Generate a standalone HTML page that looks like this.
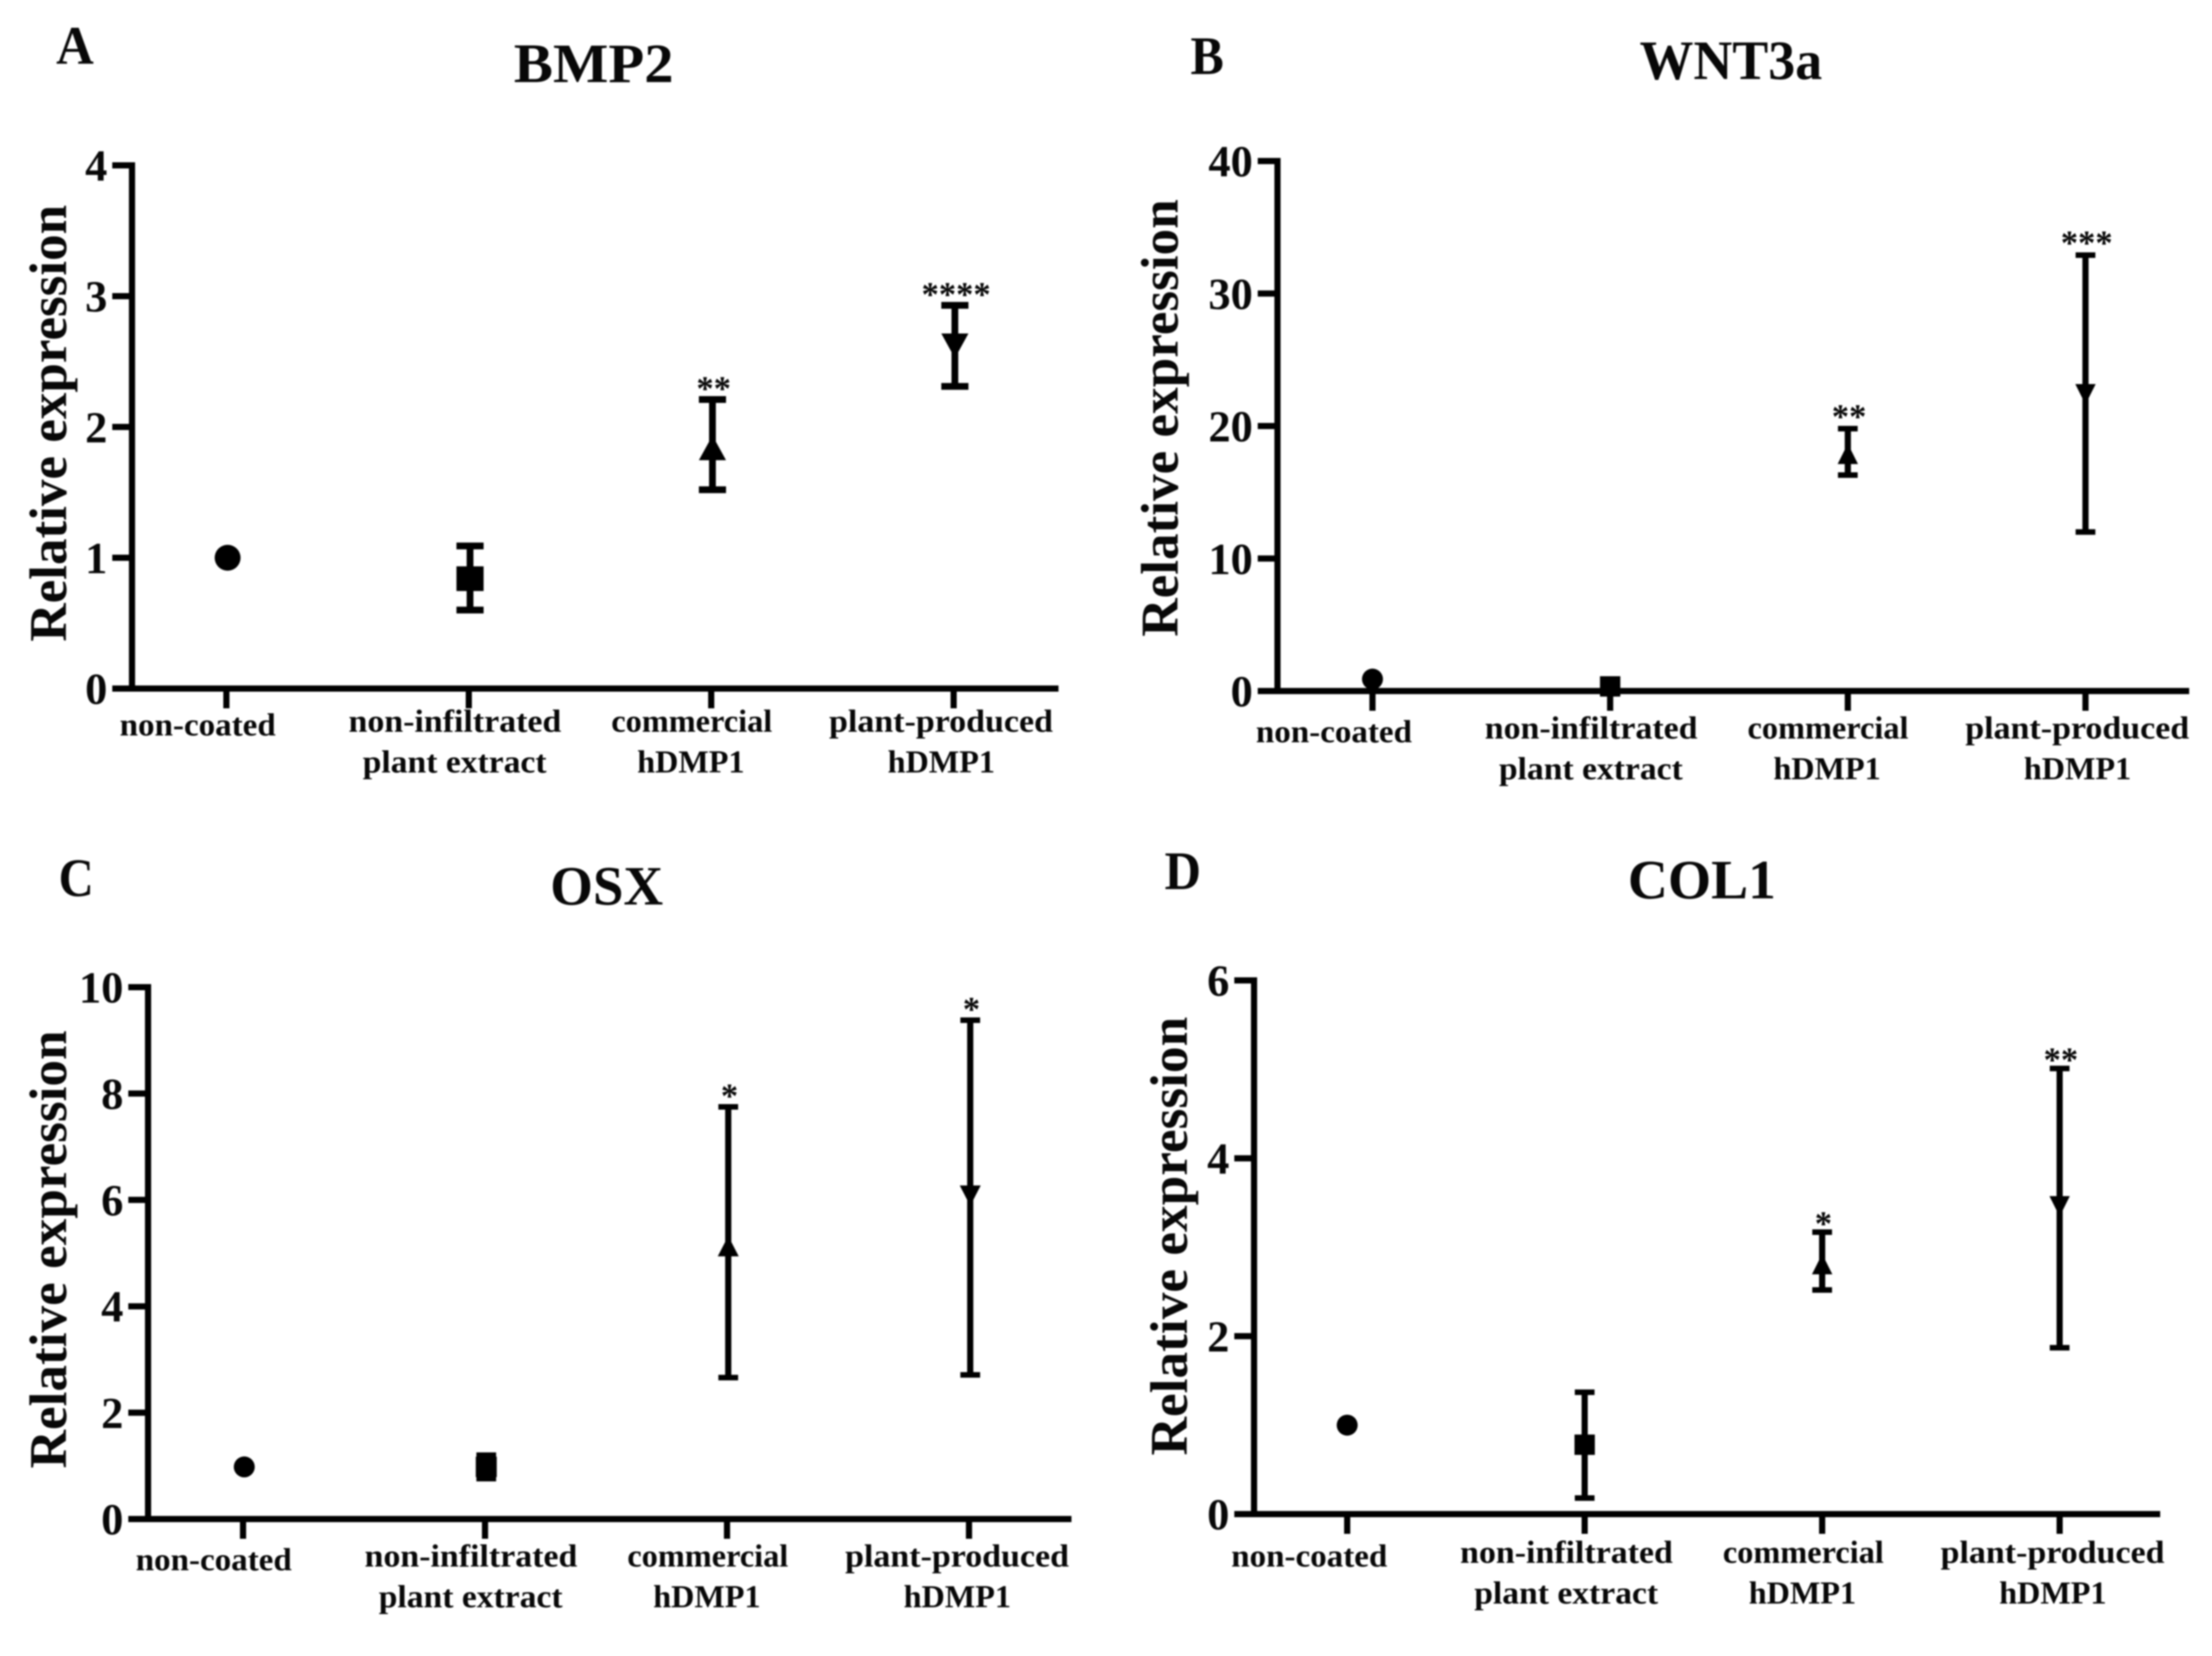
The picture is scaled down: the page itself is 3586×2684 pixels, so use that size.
<!DOCTYPE html>
<html lang="en">
<head>
<meta charset="utf-8">
<title>Relative expression of BMP2, WNT3a, OSX and COL1</title>
<style>
html,body{margin:0;padding:0;background:#fff;}
svg{display:block;filter:blur(1.3px);}
text{font-family:"Liberation Serif",serif;font-weight:bold;fill:#080808;}
.pl{font-size:88px;}
.ti{font-size:90px;}
.yt{font-size:86px;}
.cl{font-size:52px;}
</style>
</head>
<body>
<svg id="fig" xmlns="http://www.w3.org/2000/svg" width="3586" height="2684" viewBox="0 0 3586 2684">
<rect width="3586" height="2684" fill="#fff"/>

<text class="pl" x="91" y="103" textLength="61" lengthAdjust="spacingAndGlyphs">A</text>
<text class="pl" x="1930" y="120" textLength="54" lengthAdjust="spacingAndGlyphs">B</text>
<text class="pl" x="95" y="1452" textLength="57" lengthAdjust="spacingAndGlyphs">C</text>
<text class="pl" x="1888" y="1441" textLength="59" lengthAdjust="spacingAndGlyphs">D</text>

<text class="ti" x="833" y="133" textLength="259" lengthAdjust="spacingAndGlyphs">BMP2</text>
<text class="ti" x="2658" y="128" textLength="296" lengthAdjust="spacingAndGlyphs">WNT3a</text>
<text class="ti" x="892" y="1466" textLength="183" lengthAdjust="spacingAndGlyphs">OSX</text>
<text class="ti" x="2639" y="1456" textLength="240" lengthAdjust="spacingAndGlyphs">COL1</text>

<text class="yt" transform="translate(107,1040) rotate(-90)" textLength="708" lengthAdjust="spacingAndGlyphs">Relative expression</text>
<text class="yt" transform="translate(1909,1032) rotate(-90)" textLength="709" lengthAdjust="spacingAndGlyphs">Relative expression</text>
<text class="yt" transform="translate(107,2380) rotate(-90)" textLength="710" lengthAdjust="spacingAndGlyphs">Relative expression</text>
<text class="yt" transform="translate(1924,2359) rotate(-90)" textLength="711" lengthAdjust="spacingAndGlyphs">Relative expression</text>

<g class="cl" transform="translate(0,0)">
<text x="194" y="1192" textLength="253" lengthAdjust="spacingAndGlyphs">non-coated</text>
<text x="565" y="1186" textLength="345" lengthAdjust="spacingAndGlyphs">non-infiltrated</text>
<text x="588" y="1252" textLength="298" lengthAdjust="spacingAndGlyphs">plant extract</text>
<text x="991" y="1186" textLength="261" lengthAdjust="spacingAndGlyphs">commercial</text>
<text x="1033" y="1252" textLength="174" lengthAdjust="spacingAndGlyphs">hDMP1</text>
<text x="1344" y="1186" textLength="363" lengthAdjust="spacingAndGlyphs">plant-produced</text>
<text x="1439" y="1252" textLength="174" lengthAdjust="spacingAndGlyphs">hDMP1</text>
</g>
<g class="cl" transform="translate(1842,11)">
<text x="194" y="1192" textLength="253" lengthAdjust="spacingAndGlyphs">non-coated</text>
<text x="565" y="1186" textLength="345" lengthAdjust="spacingAndGlyphs">non-infiltrated</text>
<text x="588" y="1252" textLength="298" lengthAdjust="spacingAndGlyphs">plant extract</text>
<text x="991" y="1186" textLength="261" lengthAdjust="spacingAndGlyphs">commercial</text>
<text x="1033" y="1252" textLength="174" lengthAdjust="spacingAndGlyphs">hDMP1</text>
<text x="1344" y="1186" textLength="363" lengthAdjust="spacingAndGlyphs">plant-produced</text>
<text x="1439" y="1252" textLength="174" lengthAdjust="spacingAndGlyphs">hDMP1</text>
</g>
<g class="cl" transform="translate(26,1353)">
<text x="194" y="1192" textLength="253" lengthAdjust="spacingAndGlyphs">non-coated</text>
<text x="565" y="1186" textLength="345" lengthAdjust="spacingAndGlyphs">non-infiltrated</text>
<text x="588" y="1252" textLength="298" lengthAdjust="spacingAndGlyphs">plant extract</text>
<text x="991" y="1186" textLength="261" lengthAdjust="spacingAndGlyphs">commercial</text>
<text x="1033" y="1252" textLength="174" lengthAdjust="spacingAndGlyphs">hDMP1</text>
<text x="1344" y="1186" textLength="363" lengthAdjust="spacingAndGlyphs">plant-produced</text>
<text x="1439" y="1252" textLength="174" lengthAdjust="spacingAndGlyphs">hDMP1</text>
</g>
<g class="cl" transform="translate(1802,1347)">
<text x="194" y="1192" textLength="253" lengthAdjust="spacingAndGlyphs">non-coated</text>
<text x="565" y="1186" textLength="345" lengthAdjust="spacingAndGlyphs">non-infiltrated</text>
<text x="588" y="1252" textLength="298" lengthAdjust="spacingAndGlyphs">plant extract</text>
<text x="991" y="1186" textLength="261" lengthAdjust="spacingAndGlyphs">commercial</text>
<text x="1033" y="1252" textLength="174" lengthAdjust="spacingAndGlyphs">hDMP1</text>
<text x="1344" y="1186" textLength="363" lengthAdjust="spacingAndGlyphs">plant-produced</text>
<text x="1439" y="1252" textLength="174" lengthAdjust="spacingAndGlyphs">hDMP1</text>
</g>
<g id="plots"></g>
</svg>

<script>
// Shared categories and marker shapes
const categories = ['non-coated', 'non-infiltrated plant extract', 'commercial hDMP1', 'plant-produced hDMP1'];
const markerShapes = ['circle', 'square', 'triangle', 'triangle-down'];

// Panel A: BMP2
const bmp2Ticks = [0, 1, 2, 3, 4];
const bmp2Means = [1.0, 0.84, 1.84, 2.62];
const bmp2Upper = [null, 1.09, 2.21, 2.93];
const bmp2Lower = [null, 0.6, 1.52, 2.31];
const bmp2Stars = ['', '', '**', '****'];

// Panel B: WNT3a
const wnt3aTicks = [0, 10, 20, 30, 40];
const wnt3aMeans = [0.9, 0.35, 17.9, 22.4];
const wnt3aUpper = [null, null, 19.8, 32.9];
const wnt3aLower = [null, null, 16.3, 12.0];
const wnt3aStars = ['', '', '**', '***'];

// Panel C: OSX
const osxTicks = [0, 2, 4, 6, 8, 10];
const osxMeans = [0.98, 0.98, 5.13, 6.08];
const osxUpper = [null, 1.2, 7.75, 9.38];
const osxLower = [null, 0.76, 2.66, 2.71];
const osxStars = ['', '', '*', '*'];

// Panel D: COL1
const col1Ticks = [0, 2, 4, 6];
const col1Means = [1.0, 0.78, 2.81, 3.46];
const col1Upper = [null, 1.37, 3.17, 5.01];
const col1Lower = [null, 0.18, 2.52, 1.87];
const col1Stars = ['', '', '*', '**'];

const NS = 'http://www.w3.org/2000/svg';
const plots = document.getElementById('plots');

function mk(parent, tag, attrs, name) {
  const el = document.createElementNS(NS, tag);
  for (const k in attrs) el.setAttribute(k, attrs[k]);
  
  
  parent.appendChild(el);
  return el;
}

function drawPanel(id, geom, ticks, means, upper, lower, stars) {
  const g = mk(plots, 'g', {}, 'panel-' + id);
  const yMax = ticks[ticks.length - 1];
  const yScale = v => geom.y0 - (v / yMax) * (geom.y0 - geom.yTop);
  const xScale = i => geom.x0 + i * geom.step;
  const axisW = 10, tickLen = 32;

  mk(g, 'line', {x1: geom.ax, x2: geom.ax, y1: geom.yTop - axisW / 2, y2: geom.y0, stroke: '#000', 'stroke-width': axisW}, 'y-axis-line');
  mk(g, 'line', {x1: geom.ax - tickLen, x2: geom.right, y1: geom.y0, y2: geom.y0, stroke: '#000', 'stroke-width': axisW}, 'x-axis-line');

  ticks.forEach(t => {
    const y = yScale(t);
    mk(g, 'line', {x1: geom.ax - tickLen, x2: geom.ax, y1: y, y2: y, stroke: '#000', 'stroke-width': axisW}, 'y-tick');
    const label = mk(g, 'text', {x: geom.ax - tickLen - 8, y: y + 25, 'text-anchor': 'end', 'font-size': 72}, 'y-tick-label');
    label.textContent = String(t);
  });

  categories.forEach((c, i) => {
    const x = xScale(i);
    mk(g, 'line', {x1: x, x2: x, y1: geom.y0, y2: geom.y0 + tickLen, stroke: '#000', 'stroke-width': axisW}, 'x-tick');

    const px = x + geom.markerDx;
    if (upper[i] !== null) {
      mk(g, 'line', {x1: px, x2: px, y1: yScale(upper[i]), y2: yScale(lower[i]), stroke: '#000', 'stroke-width': geom.errW}, 'error-bar');
      mk(g, 'line', {x1: px - geom.capW / 2, x2: px + geom.capW / 2, y1: yScale(upper[i]), y2: yScale(upper[i]), stroke: '#000', 'stroke-width': geom.capT}, 'error-cap-upper');
      mk(g, 'line', {x1: px - geom.capW / 2, x2: px + geom.capW / 2, y1: yScale(lower[i]), y2: yScale(lower[i]), stroke: '#000', 'stroke-width': geom.capT}, 'error-cap-lower');
    }

    const py = yScale(means[i]);
    const shape = markerShapes[i];
    const w = geom.markerW, h = geom.markerH;
    if (shape === 'circle') {
      mk(g, 'ellipse', {cx: px, cy: py, rx: geom.circleR, ry: geom.circleR, fill: '#000'}, 'marker-circle');
    } else if (shape === 'square') {
      mk(g, 'rect', {x: px - w / 2, y: py - h / 2, width: w, height: h, fill: '#000'}, 'marker-square');
    } else if (shape === 'triangle') {
      mk(g, 'polygon', {points: (px - w / 2) + ',' + (py + h / 2) + ' ' + (px + w / 2) + ',' + (py + h / 2) + ' ' + px + ',' + (py - h / 2), fill: '#000'}, 'marker-triangle');
    } else {
      mk(g, 'polygon', {points: (px - w / 2) + ',' + (py - h / 2) + ' ' + (px + w / 2) + ',' + (py - h / 2) + ' ' + px + ',' + (py + h / 2), fill: '#000'}, 'marker-triangle-down');
    }

    if (stars[i]) {
      const st = mk(g, 'text', {x: px + 2, y: yScale(upper[i]) - geom.starGap + 30, 'text-anchor': 'middle', 'font-size': 56}, 'significance-stars');
      st.textContent = stars[i];
    }
  });
}

drawPanel('bmp2', {ax: 214, yTop: 268, y0: 1116, right: 1716, x0: 367, step: 393, markerDx: 2, errW: 11, capW: 44, capT: 11, markerW: 44, markerH: 40, circleR: 21, starGap: 29}, bmp2Ticks, bmp2Means, bmp2Upper, bmp2Lower, bmp2Stars);
drawPanel('wnt3a', {ax: 2071, yTop: 261, y0: 1120, right: 3549, x0: 2225, step: 385.3, markerDx: 0, errW: 10, capW: 32, capT: 9, markerW: 33, markerH: 33, circleR: 17, starGap: 31}, wnt3aTicks, wnt3aMeans, wnt3aUpper, wnt3aLower, wnt3aStars);
drawPanel('osx', {ax: 240, yTop: 1600, y0: 2462, right: 1737, x0: 394, step: 392.3, markerDx: 2, errW: 10, capW: 32, capT: 9, markerW: 34, markerH: 33, circleR: 17, starGap: 29}, osxTicks, osxMeans, osxUpper, osxLower, osxStars);
drawPanel('col1', {ax: 2033, yTop: 1589, y0: 2454, right: 3502, x0: 2184, step: 385, markerDx: 0, errW: 10, capW: 32, capT: 9, markerW: 33, markerH: 33, circleR: 17, starGap: 25}, col1Ticks, col1Means, col1Upper, col1Lower, col1Stars);
</script>
</body>
</html>
